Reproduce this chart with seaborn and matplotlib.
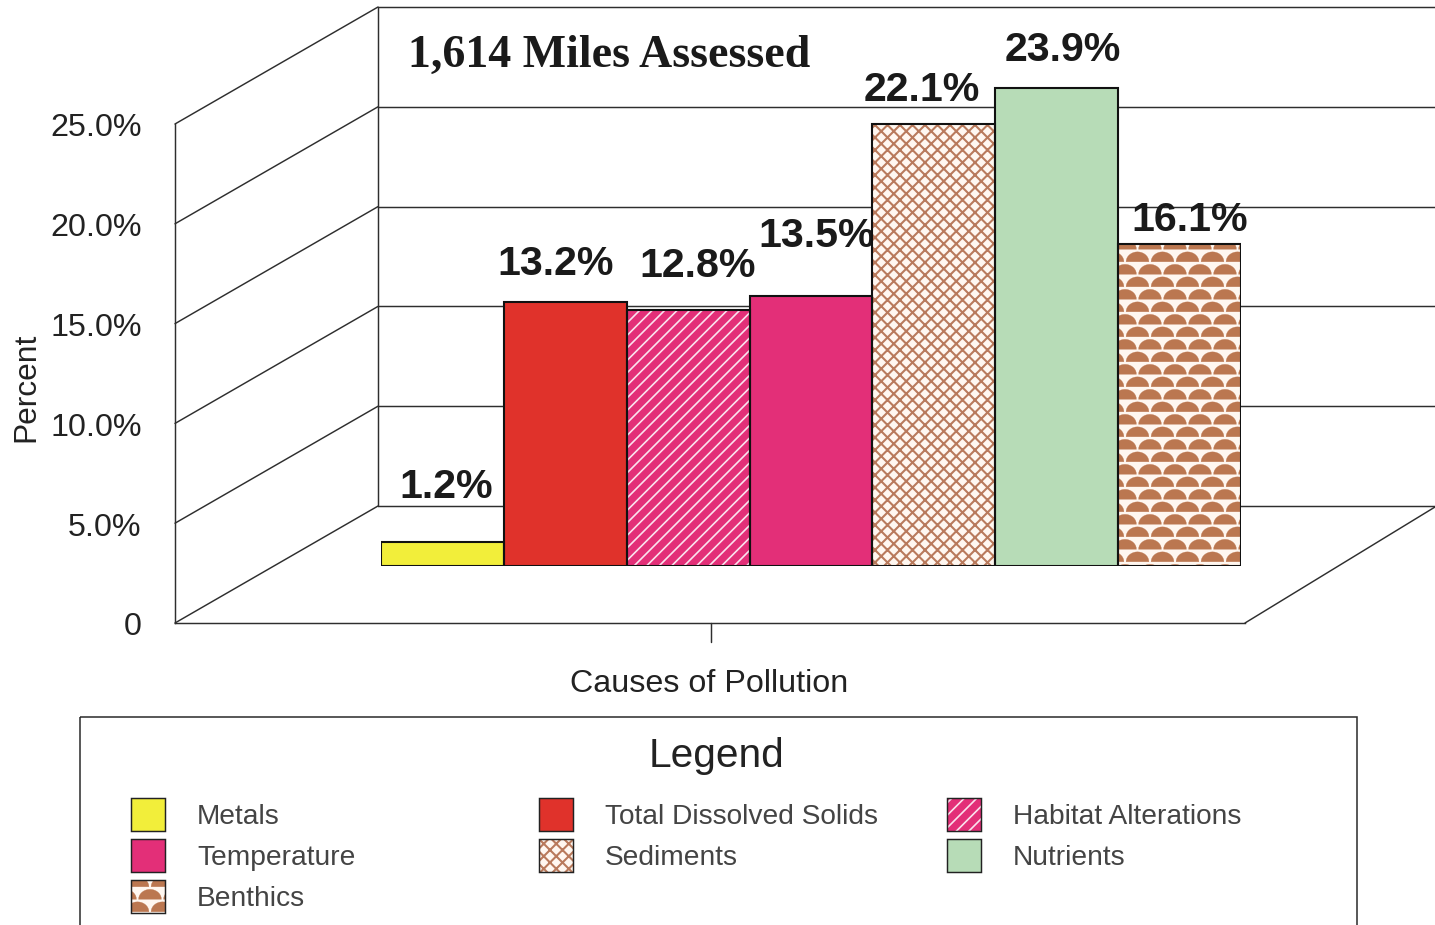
import matplotlib
matplotlib.use("Agg")
import matplotlib.hatch as mhatch
import matplotlib.pyplot as plt
import numpy as np
import pandas as pd
import seaborn as sns
from matplotlib.patches import Rectangle
from matplotlib.path import Path

causes = ["Metals", "Total Dissolved Solids", "Habitat Alterations", "Temperature",
          "Sediments", "Nutrients", "Benthics"]
percent = [1.2, 13.2, 12.8, 13.5, 22.1, 23.9, 16.1]
labels = ["1.2%", "13.2%", "12.8%", "13.5%", "22.1%", "23.9%", "16.1%"]
tick_values = [0, 5, 10, 15, 20, 25]
tick_labels = ["0", "5.0%", "10.0%", "15.0%", "20.0%", "25.0%"]

face_colors = ["#f2ee3a", "#e0322b", "#e32f78", "#e32f78", "#fff7f0", "#b7dcb7", "#fff7f0"]
hatch_colors = [None, None, "#fbe3ee", None, "#b97a5c", None, "#bb7750"]
hatches = [None, None, "//", None, "xx", None, "*"]
hatch_widths = [1, 1, 1.6, 1, 2.0, 1, 0.3]

W, H, DPI = 1435, 926, 75
LINE = "#2e2e2e"
# label nudges in pixels, the original placed them by hand
label_dx = [4, -10, 9, 6, -12, 6, 10]
label_dy = [56, 39, 45, 61, 35, 39, 25]


class DomeHatch(mhatch.HatchPatternBase):
    """Fish-scale rows of half discs, used for Benthics ('*' is repurposed)."""

    def __init__(self, hatch, density):
        self.rows = hatch.count("*") * density
        t = np.linspace(0, np.pi, 17)
        self.dome = np.column_stack([0.152 * np.cos(t), 0.132 * np.sin(t)])
        self.num_vertices = (self.rows // 2) * 7 * (len(self.dome) + 1) if self.rows else 0

    def set_vertices_and_codes(self, vertices, codes):
        n = len(self.dome) + 1
        i = 0
        for row in range(self.rows):
            centers = [1 / 6, 1 / 2, 5 / 6] if row % 2 else [0, 1 / 3, 2 / 3, 1]
            for cx in centers:
                vertices[i:i + n - 1] = self.dome + [cx, row / self.rows + 0.01]
                vertices[i + n - 1] = vertices[i]
                codes[i] = Path.MOVETO
                codes[i + 1:i + n - 1] = Path.LINETO
                codes[i + n - 1] = Path.CLOSEPOLY
                i += n


mhatch._hatch_types.remove(mhatch.Stars)
mhatch._hatch_types.append(DomeHatch)


def px_axes(fig, left, top, right, bottom, **kw):
    # one pixel down so lines land on the same rows as the source
    return fig.add_axes([left / W, 1 - (bottom + 1) / H, (right - left) / W, (bottom - top) / H], **kw)


def paint(patch, i):
    patch.set_facecolor(face_colors[i])
    if hatches[i]:
        patch.set_hatch(hatches[i])
        patch.set_edgecolor(hatch_colors[i])
        patch.set_hatch_linewidth(hatch_widths[i])
    patch.set_linewidth(0)


sns.set_theme(style="white")
plt.rcParams["font.family"] = ["Liberation Sans", "DejaVu Sans"]

fig = plt.figure(figsize=(W / DPI, H / DPI), dpi=DPI)

# whole figure in pixels, for the fake 3D frame and the legend box
frame = px_axes(fig, 0, 0, W, H, zorder=0)
frame.set_xlim(0, W)
frame.set_ylim(H, 0)
frame.axis("off")

# front wall: carries the real value axis
wall = px_axes(fig, 175, 124, 1245, 623, zorder=1)
wall.patch.set_alpha(0)
wall.set_xlim(0, 1)
wall.set_ylim(0, 25)
wall.set_yticks(tick_values, tick_labels, fontsize=31, color="#222222")
wall.set_xticks([])
wall.tick_params(axis="y", length=0, pad=32)
sns.despine(ax=wall, top=True, right=True)
for side in ["left", "bottom"]:
    wall.spines[side].set_color(LINE)
    wall.spines[side].set_linewidth(1.4)
wall.set_xlabel("Causes of Pollution", fontsize=31, color="#222222")
wall.xaxis.set_label_coords(0.4995, (623 - 668) / 499)
wall.set_ylabel("Percent", fontsize=30.5, color="#222222")
wall.yaxis.set_label_coords((41 - 175) / 1070, (623 - 386) / 499)

px_per_unit = 499 / 25
for v in tick_values:
    y = 623 - v * px_per_unit
    frame.plot([175, 378], [y, y - 117], color=LINE, lw=1.4)
    frame.plot([378, W], [y - 117, y - 117], color=LINE, lw=1.4)
frame.plot([378, 378], [506, 7], color=LINE, lw=1.4)
frame.plot([1245, W], [623, 507], color=LINE, lw=1.4)
frame.plot([711, 711], [623, 642], color=LINE, lw=1.4)

# bars stand in the middle of the floor, 20 px per percent
ax = px_axes(fig, 381, 6, 1241, 566, zorder=2)
ax.patch.set_alpha(0)
df = pd.DataFrame({"cause": causes, "percent": percent})
sns.barplot(data=df, x="cause", y="percent", hue="cause", palette=face_colors, saturation=1,
            width=1, dodge=False, legend=False, ax=ax, zorder=3)
for i, patch in enumerate(ax.patches):
    paint(patch, i)
ax.bar(causes, percent, width=1, fill=False, edgecolor="#111111", linewidth=2, zorder=4)
ax.set_xlim(-0.5, 6.5)
ax.set_ylim(0, 28)
ax.axis("off")

for i, (value, text) in enumerate(zip(percent, labels)):
    ax.annotate(text, (i, value), xytext=(label_dx[i], label_dy[i]), textcoords="offset pixels",
                ha="center", va="center", fontsize=39.5, fontweight="bold", color="#1a1a1a",
                zorder=2, annotation_clip=False)

frame.text(408, 55, "1,614 Miles Assessed", fontsize=44, fontweight="bold",
           family=["Liberation Serif", "DejaVu Serif"], color="#1a1a1a", va="center", ha="left")

# legend box runs off the bottom edge in the source
frame.add_patch(Rectangle((80, 717), 1277, 260, fill=False, edgecolor=LINE, lw=1.5))
frame.text(717, 755, "Legend", fontsize=39, color="#222222", ha="center", va="center")
for i, name in enumerate(causes):
    row, col = i // 3, i % 3
    x = 131 + col * 408
    y = 798 + row * 41
    swatch = Rectangle((x, y), 34, 33)
    frame.add_patch(swatch)
    paint(swatch, i)
    frame.add_patch(Rectangle((x, y), 34, 33, fill=False, edgecolor="#222222", lw=1.4))
    frame.text(x + 66, y + 18, name, fontsize=27, color="#444444", va="center", ha="left")

fig.savefig("out.png", dpi=DPI)
